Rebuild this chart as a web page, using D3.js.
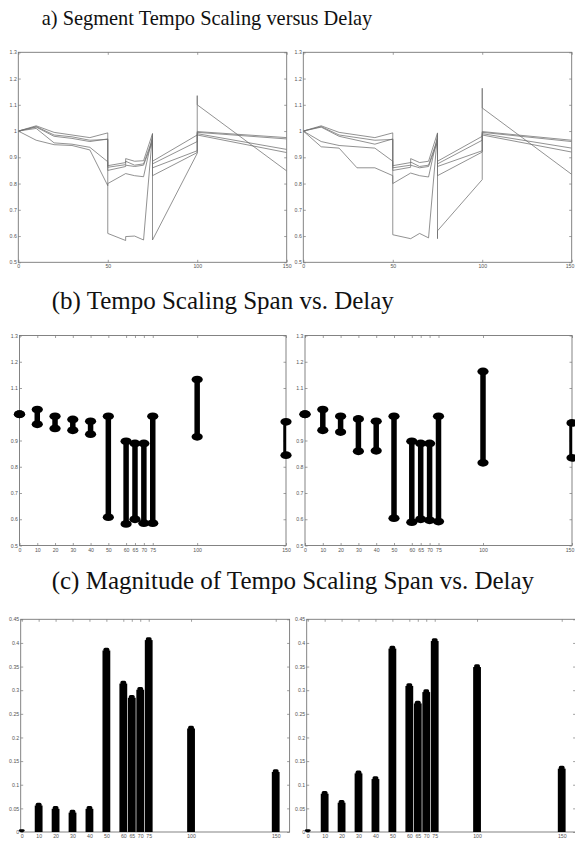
<!DOCTYPE html>
<html>
<head>
<meta charset="utf-8">
<script src="https://cdn.jsdelivr.net/npm/d3@7"></script>
<style>
  body { margin: 0; background: #fff; }
  .axis text { font-family: "Liberation Sans", Arial, sans-serif; font-size: 5.2px; fill: #555; }
  .axis line { stroke: #777; stroke-width: 0.7; }
  .axis path { display: none; }
  .title { font-family: "Liberation Serif", "Times New Roman", serif; fill: #111; }
</style>
</head>
<body>
<div id="chart"></div>
<script>

// shared delays for the segment traces (repeated values are the jumps)
var segDelay = [0, 10, 20, 30, 40, 50, 50, 60, 60, 65, 70, 75, 75, 75, 100, 100, 100, 150];

// left plot of (a)
var segLeft1 = [1.0, 1.02, 0.995, 0.985, 0.975, 0.993, 0.868, 0.88, 0.895, 0.885, 0.887, 0.99, 0.885, 0.885, 0.985, 0.998, 0.998, 0.975];
var segLeft2 = [1.0, 1.015, 0.98, 0.972, 0.96, 0.97, 0.862, 0.872, 0.885, 0.87, 0.875, 0.97, 0.875, 0.875, 0.96, 0.995, 0.995, 0.97];
var segLeft3 = [1.0, 1.01, 0.955, 0.95, 0.938, 0.883, 0.85, 0.865, 0.87, 0.865, 0.87, 0.96, 0.86, 0.86, 0.925, 0.99, 0.99, 0.93];
var segLeft4 = [1.0, 0.965, 0.948, 0.945, 0.928, 0.792, 0.80, 0.838, 0.838, 0.83, 0.826, 0.98, 0.83, 0.83, 0.918, 0.985, 0.985, 0.918];
var segLeft5 = [1.0, 1.017, 0.985, 0.978, 0.965, 0.968, 0.61, 0.583, 0.598, 0.60, 0.585, 0.99, 0.585, 0.585, 0.915, 1.135, 1.10, 0.848];

// right plot of (a)
var segRight1 = [1.0, 1.02, 0.995, 0.985, 0.975, 0.993, 0.868, 0.88, 0.895, 0.88, 0.885, 0.993, 0.885, 0.885, 0.98, 0.998, 0.998, 0.965];
var segRight2 = [1.0, 1.015, 0.98, 0.965, 0.95, 0.97, 0.86, 0.87, 0.882, 0.865, 0.87, 0.97, 0.875, 0.875, 0.965, 0.995, 0.995, 0.96];
var segRight3 = [1.0, 0.96, 0.945, 0.94, 0.935, 0.885, 0.85, 0.862, 0.87, 0.86, 0.865, 0.96, 0.865, 0.865, 0.925, 0.99, 0.99, 0.935];
var segRight4 = [1.0, 0.94, 0.935, 0.86, 0.86, 0.83, 0.80, 0.84, 0.84, 0.83, 0.825, 0.98, 0.83, 0.83, 0.92, 0.985, 0.985, 0.92];
var segRight5 = [1.0, 1.017, 0.985, 0.975, 0.965, 0.968, 0.605, 0.59, 0.59, 0.61, 0.593, 0.99, 0.59, 0.62, 0.815, 1.163, 1.088, 0.835];

// (b) and (c)
var delays = [0, 10, 20, 30, 40, 50, 60, 65, 70, 75, 100, 150];
var spanLowLeft = [1.0, 0.962, 0.946, 0.939, 0.924, 0.608, 0.582, 0.600, 0.585, 0.585, 0.914, 0.844];
var spanHighLeft = [1.0, 1.018, 0.992, 0.980, 0.973, 0.992, 0.897, 0.889, 0.889, 0.992, 1.132, 0.971];
var spanLowRight = [1.0, 0.939, 0.932, 0.859, 0.861, 0.604, 0.589, 0.600, 0.596, 0.591, 0.815, 0.834];
var spanHighRight = [1.0, 1.018, 0.992, 0.982, 0.973, 0.992, 0.897, 0.889, 0.889, 0.992, 1.163, 0.967];
var magLeft = [0, 0.056, 0.049, 0.041, 0.049, 0.384, 0.314, 0.284, 0.301, 0.406, 0.219, 0.127];
var magRight = [0, 0.081, 0.062, 0.124, 0.112, 0.388, 0.309, 0.272, 0.296, 0.404, 0.349, 0.134];

// tick labels
var xTicksA = [0, 50, 100, 150];
var yTicksA = [0.5, 0.6, 0.7, 0.8, 0.9, 1, 1.1, 1.2, 1.3];
var yTicksB = [0.5, 0.6, 0.7, 0.8, 0.9, 1.1, 1.2, 1.3];
var yTicksC = [0, 0.05, 0.1, 0.15, 0.2, 0.25, 0.3, 0.35, 0.4, 0.45];

var titleA = "a) Segment Tempo Scaling versus Delay";
var titleB = "(b) Tempo Scaling Span vs. Delay";
var titleC = "(c) Magnitude of Tempo Scaling Span vs. Delay";


var svg = d3.select("#chart").append("svg")
    .attr("width", 575)
    .attr("height", 842);

var fmt = d3.format("~g");
var clipCount = 0;

//draws the box, inside ticks on all four sides and the labels
function drawFrame(g, x, y, xTicks, yTicks) {
    var xr = x.range(), yr = y.range();

    g.append("g").attr("class", "axis")
        .attr("transform", "translate(0," + yr[0] + ")")
        .call(d3.axisBottom(x).tickValues(xTicks).tickSizeInner(-2.5).tickSizeOuter(0).tickPadding(2.5).tickFormat(fmt));
    g.append("g").attr("class", "axis")
        .attr("transform", "translate(0," + yr[1] + ")")
        .call(d3.axisTop(x).tickValues(xTicks).tickSizeInner(-2.5).tickSizeOuter(0).tickFormat(""));
    g.append("g").attr("class", "axis")
        .attr("transform", "translate(" + xr[0] + ",0)")
        .call(d3.axisLeft(y).tickValues(yTicks).tickSizeInner(-2.5).tickSizeOuter(0).tickPadding(1.5).tickFormat(fmt));
    g.append("g").attr("class", "axis")
        .attr("transform", "translate(" + xr[1] + ",0)")
        .call(d3.axisRight(y).tickValues(yTicks).tickSizeInner(-2.5).tickSizeOuter(0).tickFormat(""));

    g.append("rect")
        .attr("x", xr[0]).attr("y", yr[1])
        .attr("width", xr[1] - xr[0]).attr("height", yr[0] - yr[1])
        .attr("fill", "none").attr("stroke", "#777").attr("stroke-width", 0.9);
}

function addClip(x, y) {
    var id = "clip" + (clipCount++);
    svg.append("clipPath").attr("id", id).append("rect")
        .attr("x", x.range()[0]).attr("y", y.range()[1])
        .attr("width", x.range()[1] - x.range()[0])
        .attr("height", y.range()[0] - y.range()[1]);
    return "url(#" + id + ")";
}

// PANEL A: segment traces
function plotSegments(left, right, traces) {
    var x = d3.scaleLinear().domain([0, 150]).range([left, right]);
    var y = d3.scaleLinear().domain([0.5, 1.3]).range([262.3, 52.3]);
    var g = svg.append("g");

    var line = d3.line()
        .x(function (d, i) { return x(segDelay[i]); })
        .y(function (d) { return y(d); });

    g.append("g").attr("clip-path", addClip(x, y))
        .selectAll("path")
        .data(traces)
        .enter().append("path")
        .attr("d", line)
        .attr("fill", "none")
        .attr("stroke", "#6e6e6e")
        .attr("stroke-width", 0.75);

    drawFrame(g, x, y, xTicksA, yTicksA);
}

// PANEL B: span of tempo scaling at each delay
function plotSpan(left, right, lows, highs) {
    var x = d3.scaleLinear().domain([0, 150]).range([left, right]);
    var y = d3.scaleLinear().domain([0.5, 1.3]).range([545.5, 335.5]);
    var g = svg.append("g");

    drawFrame(g, x, y, delays, yTicksB);

    g.append("g").attr("clip-path", addClip(x, y))
        .selectAll("line")
        .data(delays)
        .enter().append("line")
        .attr("x1", function (d) { return x(d); })
        .attr("x2", function (d) { return x(d); })
        .attr("y1", function (d, i) { return y(lows[i]); })
        .attr("y2", function (d, i) { return y(highs[i]); })
        .attr("stroke", "#000")
        .attr("stroke-width", 5.5);

    var ends = [];
    delays.forEach(function (d, i) {
        ends.push({x: d, v: lows[i]});
        ends.push({x: d, v: highs[i]});
    });

    g.selectAll("ellipse")
        .data(ends)
        .enter().append("ellipse")
        .attr("cx", function (d) { return x(d.x); })
        .attr("cy", function (d) { return y(d.v); })
        .attr("rx", 5.6)
        .attr("ry", 3.9)
        .attr("fill", "#000");
}

// PANEL C: magnitude of span
function plotMagnitude(left, mags) {
    var x = d3.scaleLinear().domain([-0.6, 158.2]);
    x.range([left, left + (x.domain()[1] - x.domain()[0]) * 1.6933]);
    var y = d3.scaleLinear().domain([0, 0.45]).range([832, 619.3]);
    var g = svg.append("g");

    drawFrame(g, x, y, delays, yTicksC);

    var bar = g.selectAll(".magBar")
        .data(delays)
        .enter().append("g")
        .attr("class", "magBar")
        .attr("transform", function (d) { return "translate(" + x(d) + ",0)"; });

    bar.append("rect")
        .attr("x", -3.9)
        .attr("width", 7.8)
        .attr("y", function (d, i) { return y(mags[i]); })
        .attr("height", function (d, i) { return y(0) - y(mags[i]); })
        .attr("fill", "#000");

    bar.append("rect")
        .attr("x", -2.9)
        .attr("width", 5.8)
        .attr("y", function (d, i) { return y(mags[i]) - 2.8; })
        .attr("height", function (d, i) { return Math.min(5, y(0) - y(mags[i]) + 2.8); })
        .attr("rx", 1.6)
        .attr("fill", "#000");
}

svg.append("text").attr("class", "title")
    .attr("x", 41.7).attr("y", 25).attr("font-size", 20.4)
    .text(titleA);
svg.append("text").attr("class", "title")
    .attr("x", 51.7).attr("y", 308.5).attr("font-size", 25)
    .text(titleB);
svg.append("text").attr("class", "title")
    .attr("x", 51.7).attr("y", 589).attr("font-size", 25)
    .text(titleC);

plotSegments(18.3, 286.7, [segLeft1, segLeft2, segLeft3, segLeft4, segLeft5]);
plotSegments(303.3, 571.7, [segRight1, segRight2, segRight3, segRight4, segRight5]);

plotSpan(19.5, 286, spanLowLeft, spanHighLeft);
plotSpan(305, 572, spanLowRight, spanHighRight);

plotMagnitude(20.7, magLeft);
plotMagnitude(306.7, magRight);

// tick labels sitting on the page edge get pulled back inside
svg.selectAll(".axis text").each(function () {
    var box = this.getBBox();
    var ctm = this.getCTM();
    var right = ctm.e + box.x + box.width;
    if (right > 574.5) {
        d3.select(this).attr("dx", (574.5 - right) + "px");
    }
});

</script>
</body>
</html>
